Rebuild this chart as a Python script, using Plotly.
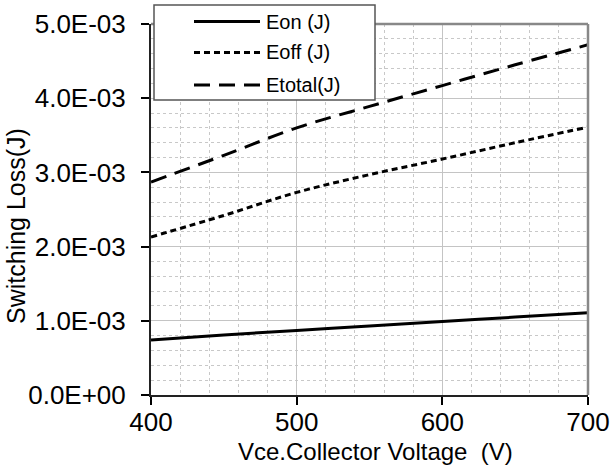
import plotly.graph_objects as go

# Switching loss vs collector-emitter voltage
vce = [400, 450, 500, 550, 600, 650, 700]
eon = [0.74e-3, 0.81e-3, 0.87e-3, 0.93e-3, 0.99e-3, 1.05e-3, 1.11e-3]
eoff = [2.13e-3, 2.42e-3, 2.73e-3, 2.97e-3, 3.18e-3, 3.40e-3, 3.61e-3]
etotal = [2.87e-3, 3.23e-3, 3.60e-3, 3.89e-3, 4.17e-3, 4.45e-3, 4.72e-3]

series_names = ["Eon (J)", "Eoff (J)", "Etotal(J)"]
series_dash = ["solid", "6px,4px", "16px,9px"]

x_ticks = [400, 500, 600, 700]
y_ticks = [0.0, 1.0e-3, 2.0e-3, 3.0e-3, 4.0e-3, 5.0e-3]
y_tick_labels = ["0.0E+00", "1.0E-03", "2.0E-03", "3.0E-03", "4.0E-03", "5.0E-03"]

FONT = "Liberation Sans, Arial, sans-serif"
W, H = 612, 466
ML, MR, MT, MB = 151, 24, 24, 71
PW, PH = W - ML - MR, H - MT - MB


def px_x(p):
    return (p - ML) / PW


def px_y(p):
    return (H - MB - p) / PH


fig = go.Figure()
for name, ys, dash in zip(series_names, [eon, eoff, etotal], series_dash):
    fig.add_trace(go.Scatter(
        x=vce, y=ys, mode="lines", name=name,
        line=dict(color="black", width=3, dash=dash, shape="spline"),
        showlegend=False,
    ))

grid_major = "#c4c4c4"
grid_minor = "#c8c8c8"

fig.update_xaxes(
    range=[400, 700], tickvals=x_ticks, ticks="outside", ticklen=8,
    tickwidth=1.5, tickcolor="black", showline=True, linecolor="#222222",
    linewidth=2, showgrid=True, gridcolor=grid_major, gridwidth=1,
    minor=dict(dtick=20, showgrid=True, gridcolor=grid_minor,
               griddash="dot", gridwidth=1),
    tickfont=dict(family=FONT, size=26, color="black"),
    ticklabelstandoff=-5, zeroline=False, automargin=False,
)
fig.update_yaxes(
    range=[0, 5.0e-3], tickvals=y_ticks, ticktext=y_tick_labels,
    ticks="outside", ticklen=8, tickwidth=1.5, tickcolor="black",
    showline=True, linecolor="#222222", linewidth=2, showgrid=True,
    gridcolor=grid_major, gridwidth=1,
    minor=dict(dtick=0.2e-3, showgrid=True, gridcolor=grid_minor,
               griddash="dot", gridwidth=1),
    tickfont=dict(family=FONT, size=26, color="black"),
    ticklabelstandoff=10, zeroline=False, automargin=False,
)

shapes = [
    # grey frame on top and right
    dict(type="line", xref="paper", yref="paper", x0=0, x1=1, y0=1, y1=1,
         line=dict(color="#888888", width=2.5)),
    dict(type="line", xref="paper", yref="paper", x0=1, x1=1, y0=0, y1=1,
         line=dict(color="#888888", width=2.5)),
    # legend box
    dict(type="rect", xref="paper", yref="paper",
         x0=px_x(154), x1=px_x(375), y0=px_y(100), y1=px_y(5),
         line=dict(color="#555555", width=1.5), fillcolor="white"),
]
annotations = []
legend_rows = [21.5, 52.5, 85]
for name, dash, ly in zip(series_names, series_dash, legend_rows):
    shapes.append(dict(type="line", xref="paper", yref="paper",
                       x0=px_x(194), x1=px_x(260), y0=px_y(ly), y1=px_y(ly),
                       line=dict(color="black", width=3, dash=dash)))
    annotations.append(dict(xref="paper", yref="paper", x=px_x(264),
                            y=px_y(ly), xanchor="left", yanchor="middle",
                            text=name, showarrow=False,
                            font=dict(family=FONT, size=20, color="black")))

annotations.append(dict(xref="paper", yref="paper", x=px_x(375), y=px_y(451),
                        xanchor="center", yanchor="middle",
                        text="Vce.Collector Voltage  (V)", showarrow=False,
                        font=dict(family=FONT, size=24, color="black")))
annotations.append(dict(xref="paper", yref="paper", x=px_x(16), y=px_y(226),
                        xanchor="center", yanchor="middle", textangle=-90,
                        text="Switching Loss(J)", showarrow=False,
                        font=dict(family=FONT, size=25, color="black")))

fig.update_layout(
    width=W, height=H,
    margin=dict(l=ML, r=MR, t=MT, b=MB, autoexpand=False),
    paper_bgcolor="white", plot_bgcolor="white",
    shapes=shapes, annotations=annotations,
    font=dict(family=FONT),
)

fig.write_html("out.html")
